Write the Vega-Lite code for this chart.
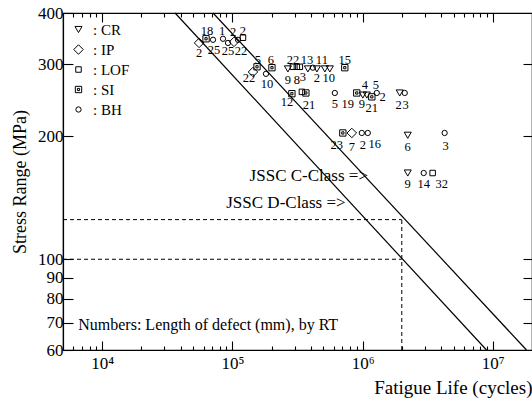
{
  "$schema": "https://vega.github.io/schema/vega-lite/v6.json",
  "width": 469,
  "height": 337,
  "autosize": {"type": "none"},
  "padding": {"left": 63, "top": 13, "right": 0, "bottom": 53},
  "background": "white",
  "config": {
    "font": "Liberation Serif",
    "view": {"stroke": "black", "strokeWidth": 1.2},
    "axis": {"domainColor": "black", "tickColor": "black", "labelColor": "black", "titleColor": "black", "grid": false, "labelFont": "Liberation Serif", "titleFont": "Liberation Serif", "titleFontWeight": "normal", "tickWidth": 1.1, "domainWidth": 1.2}
  },
  "datasets": {
    "dashed": [
      {"N1": 5000, "N2": 2000000, "S1": 125, "S2": 125},
      {"N1": 5000, "N2": 2000000, "S1": 100, "S2": 100},
      {"N1": 2000000, "N2": 2000000, "S1": 60, "S2": 125}
    ],
    "lines": [
      {"cls": "D", "N": 36290, "S": 400},
      {"cls": "D", "N": 8950000, "S": 60},
      {"cls": "C", "N": 71000, "S": 400},
      {"cls": "C", "N": 18150000, "S": 60}
    ],
    "points": [
      {"type": "IP", "N": 55460, "S": 338},
      {"type": "SI", "N": 62740, "S": 346},
      {"type": "BH", "N": 71000, "S": 344},
      {"type": "BH", "N": 84700, "S": 346},
      {"type": "BH", "N": 92500, "S": 338},
      {"type": "IP", "N": 102900, "S": 340},
      {"type": "BH", "N": 110400, "S": 344},
      {"type": "LOF", "N": 120600, "S": 348},
      {"type": "SI", "N": 154500, "S": 295.5},
      {"type": "IP", "N": 143900, "S": 287},
      {"type": "SI", "N": 201300, "S": 294},
      {"type": "BH", "N": 181100, "S": 284},
      {"type": "CR", "N": 266800, "S": 292},
      {"type": "LOF", "N": 291600, "S": 295.5},
      {"type": "LOF", "N": 312800, "S": 295.5},
      {"type": "LOF", "N": 329800, "S": 295.5},
      {"type": "CR", "N": 380000, "S": 292},
      {"type": "BH", "N": 415000, "S": 294},
      {"type": "CR", "N": 445600, "S": 292},
      {"type": "CR", "N": 513000, "S": 292},
      {"type": "CR", "N": 560000, "S": 292},
      {"type": "SI", "N": 729700, "S": 294},
      {"type": "SI", "N": 286400, "S": 254},
      {"type": "LOF", "N": 341800, "S": 256.6},
      {"type": "SI", "N": 366600, "S": 255},
      {"type": "BH", "N": 612000, "S": 255},
      {"type": "SI", "N": 902000, "S": 255},
      {"type": "CR", "N": 1003500, "S": 252},
      {"type": "CR", "N": 1077000, "S": 252},
      {"type": "SI", "N": 1177000, "S": 249.5},
      {"type": "BH", "N": 1285000, "S": 255},
      {"type": "CR", "N": 1928000, "S": 255},
      {"type": "BH", "N": 2107000, "S": 255},
      {"type": "SI", "N": 705000, "S": 203.6},
      {"type": "IP", "N": 826000, "S": 203.6},
      {"type": "BH", "N": 986000, "S": 203.6},
      {"type": "BH", "N": 1096000, "S": 203.6},
      {"type": "CR", "N": 2222000, "S": 201},
      {"type": "BH", "N": 4266000, "S": 203.6},
      {"type": "CR", "N": 2222000, "S": 162.5},
      {"type": "BH", "N": 2946000, "S": 162.5},
      {"type": "LOF", "N": 3451000, "S": 162.5}
    ],
    "labels": [
      {"t": "2", "N": 55460, "S": 319.8},
      {"t": "18", "N": 63830, "S": 362},
      {"t": "25", "N": 72260, "S": 325.2},
      {"t": "1", "N": 83230, "S": 362},
      {"t": "25", "N": 92500, "S": 323.5},
      {"t": "2", "N": 101100, "S": 360},
      {"t": "22", "N": 116400, "S": 323.5},
      {"t": "2", "N": 120600, "S": 362},
      {"t": "5", "N": 157100, "S": 307.5},
      {"t": "22", "N": 134000, "S": 277.8},
      {"t": "6", "N": 197700, "S": 307.5},
      {"t": "10", "N": 184300, "S": 268.5},
      {"t": "9", "N": 266800, "S": 274.6},
      {"t": "22", "N": 291600, "S": 307.5},
      {"t": "8", "N": 312800, "S": 274.6},
      {"t": "3", "N": 347700, "S": 279.3},
      {"t": "13", "N": 373300, "S": 307.5},
      {"t": "2", "N": 445600, "S": 277.8},
      {"t": "11", "N": 486700, "S": 307.5},
      {"t": "10", "N": 550700, "S": 277.8},
      {"t": "15", "N": 729700, "S": 307.5},
      {"t": "12", "N": 262200, "S": 242.6},
      {"t": "21", "N": 386700, "S": 238.5},
      {"t": "5", "N": 612000, "S": 239.9},
      {"t": "19", "N": 769700, "S": 239.9},
      {"t": "9", "N": 986000, "S": 239.9},
      {"t": "4", "N": 1040000, "S": 267},
      {"t": "5", "N": 1262000, "S": 267},
      {"t": "2", "N": 1428000, "S": 249.5},
      {"t": "21", "N": 1177000, "S": 234.5},
      {"t": "2", "N": 1895000, "S": 238.5},
      {"t": "3", "N": 2144000, "S": 238.5},
      {"t": "23", "N": 634000, "S": 190.3},
      {"t": "7", "N": 826000, "S": 188.2},
      {"t": "2", "N": 1003500, "S": 190.3},
      {"t": "16", "N": 1240000, "S": 191.4},
      {"t": "6", "N": 2222000, "S": 188.2},
      {"t": "3", "N": 4345000, "S": 189.2},
      {"t": "9", "N": 2222000, "S": 152.7},
      {"t": "14", "N": 2946000, "S": 152.7},
      {"t": "32", "N": 4050000, "S": 152.7}
    ],
    "notesRight": [
      {"t": "JSSC C-Class =>", "N": 1100000, "S": 160},
      {"t": "JSSC D-Class =>", "N": 740000, "S": 137}
    ],
    "notesLeft": [
      {"t": "Numbers: Length of defect (mm), by RT", "N": 6550, "S": 68.9}
    ]
  },
  "layer": [
    {
      "data": {"name": "dashed"},
      "mark": {"type": "rule", "strokeDash": [4, 3], "color": "black", "strokeWidth": 1},
      "encoding": {
        "x": {"field": "N1", "type": "quantitative", "scale": {"type": "log", "domain": [5000, 20000000]},
          "axis": {"orient": "bottom", "values": [10000, 100000, 1000000, 10000000], "tickSize": -9, "labelFontSize": 17, "labelPadding": 14,
            "labelExpr": "datum.value == 10000 ? '10⁴' : datum.value == 100000 ? '10⁵' : datum.value == 1000000 ? '10⁶' : '10⁷'",
            "title": "Fatigue Life (cycles)", "titleFontSize": 19, "titleAnchor": "end", "titlePadding": 7}},
        "x2": {"field": "N2"},
        "y": {"field": "S1", "type": "quantitative", "scale": {"type": "log", "domain": [60, 400]},
          "axis": {"orient": "left", "values": [60, 70, 80, 90, 100, 200, 300, 400], "tickSize": -10, "labelFontSize": 17, "labelPadding": 10,
            "title": "Stress Range (MPa)", "titleFontSize": 18, "titlePadding": 8}},
        "y2": {"field": "S2"}
      }
    },
    {
      "data": {"name": "lines"},
      "mark": {"type": "line", "color": "black", "strokeWidth": 1.2},
      "encoding": {
        "x": {"field": "N", "type": "quantitative", "scale": {"type": "log", "domain": [5000, 20000000]},
          "axis": {"orient": "bottom", "values": [6000, 7000, 8000, 9000, 20000, 30000, 40000, 50000, 60000, 70000, 80000, 90000, 200000, 300000, 400000, 500000, 600000, 700000, 800000, 900000, 2000000, 3000000, 4000000, 5000000, 6000000, 7000000, 8000000, 9000000], "tickSize": -4, "labels": false, "domain": false, "title": null}},
        "y": {"field": "S", "type": "quantitative", "scale": {"type": "log", "domain": [60, 400]},
          "axis": {"orient": "right", "values": [70, 80, 90, 100, 200, 300], "tickSize": -9, "labels": false, "domain": false, "title": null}},
        "detail": {"field": "cls"}
      }
    },
    {
      "data": {"name": "points"},
      "mark": {"type": "point", "filled": false, "color": "black", "strokeWidth": 1, "opacity": 1},
      "encoding": {
        "x": {"field": "N", "type": "quantitative", "scale": {"type": "log", "domain": [5000, 20000000]},
          "axis": {"orient": "top", "values": [6000, 7000, 8000, 9000, 20000, 30000, 40000, 50000, 60000, 70000, 80000, 90000, 200000, 300000, 400000, 500000, 600000, 700000, 800000, 900000, 2000000, 3000000, 4000000, 5000000, 6000000, 7000000, 8000000, 9000000], "tickSize": -4, "labels": false, "domain": false, "title": null}},
        "y": {"field": "S", "type": "quantitative", "scale": {"type": "log", "domain": [60, 400]}, "axis": null},
        "shape": {"field": "type", "type": "nominal",
          "scale": {"domain": ["CR", "IP", "LOF", "SI", "BH"], "range": ["triangle-down", "diamond", "square", "M-1,-1H1V1H-1Z M-0.35,-0.35H0.35V0.35H-0.35Z", "circle"]},
          "legend": {"orient": "none", "legendX": 8, "legendY": 9, "title": null, "labelFontSize": 15, "labelFont": "Liberation Serif", "labelColor": "black", "symbolStrokeColor": "black", "symbolStrokeWidth": 1, "symbolFillColor": "transparent", "rowPadding": 4, "labelOffset": 7, "padding": 0, "labelExpr": "': ' + datum.label"}},
        "size": {"field": "type", "type": "nominal",
          "scale": {"type": "ordinal", "domain": ["CR", "IP", "LOF", "SI", "BH"], "range": [50, 90, 30, 40, 28]},
          "legend": {"orient": "none", "legendX": 8, "legendY": 9, "title": null, "labelFontSize": 15, "labelFont": "Liberation Serif", "labelColor": "black", "symbolStrokeColor": "black", "symbolStrokeWidth": 1, "symbolFillColor": "transparent", "rowPadding": 4, "labelOffset": 7, "padding": 0, "labelExpr": "': ' + datum.label"}}
      }
    },
    {
      "data": {"name": "labels"},
      "mark": {"type": "text", "fontSize": 12.5, "color": "black", "font": "Liberation Serif", "baseline": "middle", "align": "center"},
      "encoding": {
        "x": {"field": "N", "type": "quantitative", "scale": {"type": "log", "domain": [5000, 20000000]},
          "axis": {"orient": "top", "values": [10000, 100000, 1000000, 10000000], "tickSize": -9, "labels": false, "domain": false, "title": null}},
        "y": {"field": "S", "type": "quantitative", "scale": {"type": "log", "domain": [60, 400]}, "axis": null},
        "text": {"field": "t"}
      }
    },
    {
      "data": {"name": "notesRight"},
      "mark": {"type": "text", "fontSize": 17, "color": "black", "font": "Liberation Serif", "baseline": "middle", "align": "right"},
      "encoding": {
        "x": {"field": "N", "type": "quantitative", "scale": {"type": "log", "domain": [5000, 20000000]}, "axis": null},
        "y": {"field": "S", "type": "quantitative", "scale": {"type": "log", "domain": [60, 400]}, "axis": null},
        "text": {"field": "t"}
      }
    },
    {
      "data": {"name": "notesLeft"},
      "mark": {"type": "text", "fontSize": 16, "color": "black", "font": "Liberation Serif", "baseline": "middle", "align": "left"},
      "encoding": {
        "x": {"field": "N", "type": "quantitative", "scale": {"type": "log", "domain": [5000, 20000000]}, "axis": null},
        "y": {"field": "S", "type": "quantitative", "scale": {"type": "log", "domain": [60, 400]}, "axis": null},
        "text": {"field": "t"}
      }
    }
  ],
  "resolve": {"axis": {"x": "independent", "y": "independent"}}
}
